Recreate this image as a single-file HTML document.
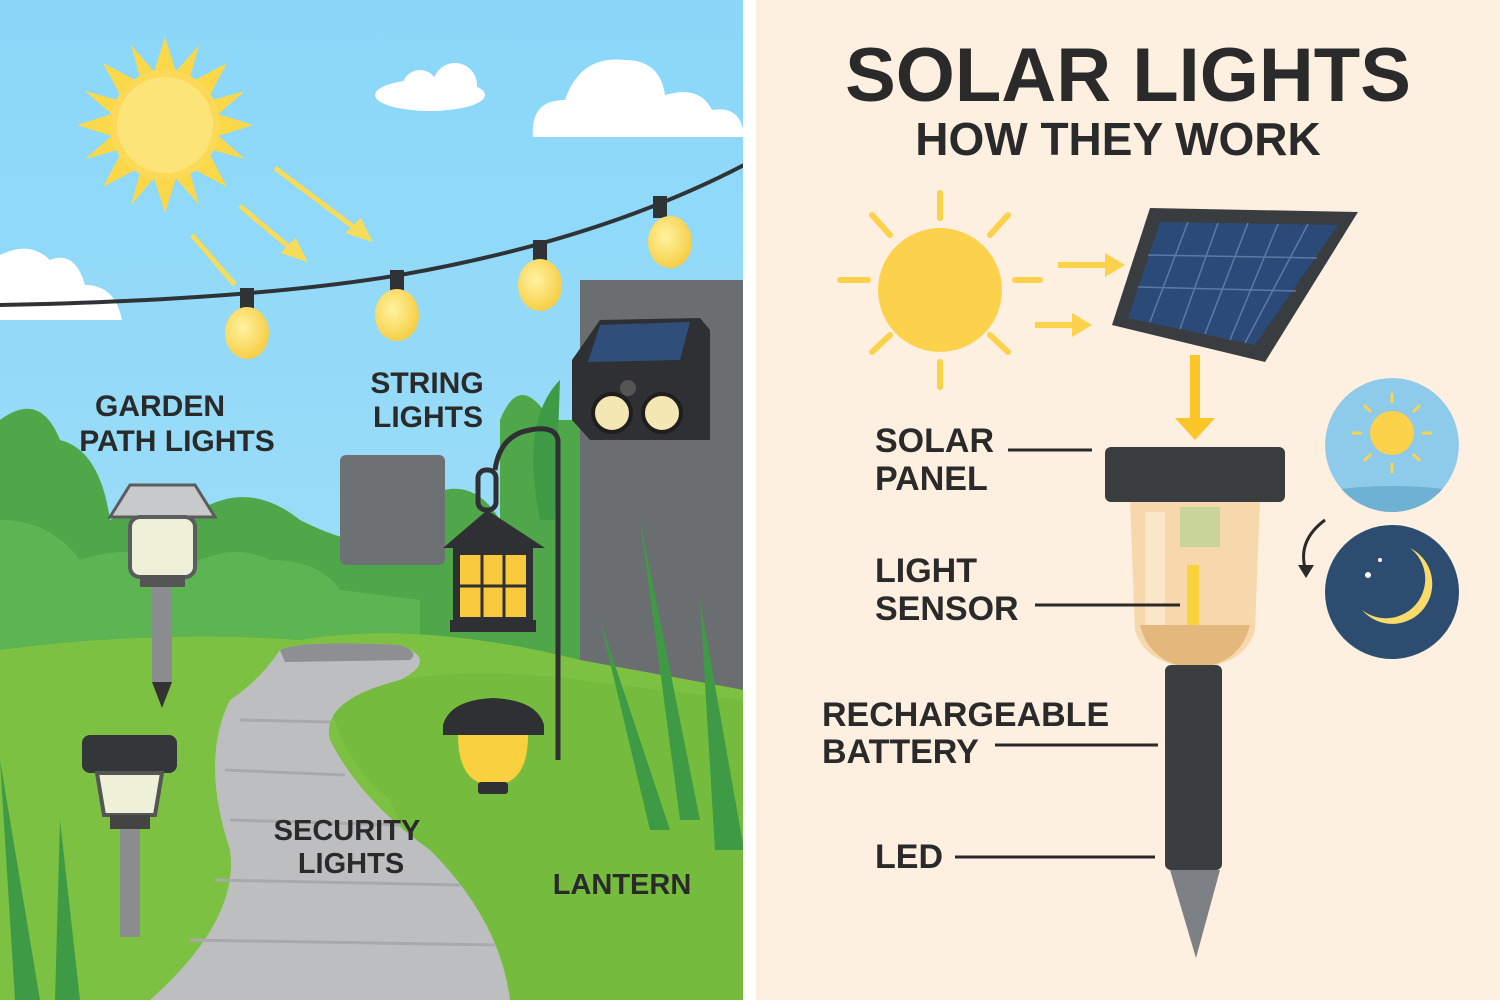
<!DOCTYPE html>
<html><head><meta charset="utf-8"><style>
html,body{margin:0;padding:0;width:1500px;height:1000px;overflow:hidden;background:#fff}
svg{display:block}
text{font-family:"Liberation Sans","DejaVu Sans",sans-serif;font-weight:bold;fill:#2a2a2a}
</style></head><body>
<svg width="1500" height="1000" viewBox="0 0 1500 1000" xmlns="http://www.w3.org/2000/svg">
<defs>
<linearGradient id="sky" x1="0" y1="0" x2="0" y2="1"><stop offset="0" stop-color="#8ad7f9"/><stop offset="1" stop-color="#a6e0f7"/></linearGradient>
<radialGradient id="bulb" cx="0.4" cy="0.4" r="0.7"><stop offset="0" stop-color="#fff3a0"/><stop offset="1" stop-color="#f6c93a"/></radialGradient>
<clipPath id="dayc"><circle cx="1392" cy="445" r="67"/></clipPath>
</defs>
<!-- LEFT PANEL -->
<rect x="0" y="0" width="744" height="1000" fill="url(#sky)"/>
<g transform="translate(165,125)">
<g fill="#fbd84a">
<polygon points="0,-88 12,-50 -12,-50"/><polygon points="0,88 12,50 -12,50"/><polygon points="-88,0 -50,12 -50,-12"/><polygon points="88,0 50,12 50,-12"/>
<polygon points="62,-62 30,-45 45,-30"/><polygon points="-62,-62 -30,-45 -45,-30"/><polygon points="62,62 30,45 45,30"/><polygon points="-62,62 -30,45 -45,30"/>
<polygon points="34,-80 24,-44 8,-50"/><polygon points="-34,-80 -24,-44 -8,-50"/><polygon points="34,80 24,44 8,50"/><polygon points="-34,80 -24,44 -8,50"/>
<polygon points="80,-34 44,-24 50,-8"/><polygon points="-80,-34 -44,-24 -50,-8"/><polygon points="80,34 44,24 50,8"/><polygon points="-80,34 -44,24 -50,8"/>
</g>
<circle r="55" fill="#fcd956"/><circle r="48" fill="#fde478"/>
</g>
<g stroke="#f6dc5a" stroke-width="5" fill="#f6dc5a">
<line x1="192" y1="235" x2="235" y2="285"/><line x1="240" y1="206" x2="295" y2="252"/><line x1="275" y1="168" x2="360" y2="232"/>
<polygon points="303,258 285,252 295,242"/><polygon points="368,238 350,232 360,222"/>
</g>
<g fill="#ffffff">
<ellipse cx="430" cy="95" rx="55" ry="16"/><circle cx="420" cy="88" r="18"/><circle cx="455" cy="85" r="22"/>
<path d="M533 137 Q530 100 565 100 Q580 55 625 60 Q660 60 665 95 Q700 85 712 110 Q742 105 744 137 Z"/>
<path d="M0 320 L0 255 Q30 240 50 260 Q75 250 85 285 Q115 285 122 320 Z"/>
</g>
<path d="M0 305 Q250 300 400 275 Q600 240 744 165" stroke="#2f3336" stroke-width="4" fill="none"/>
<g>
<rect x="240" y="288" width="14" height="22" fill="#2f3336"/><ellipse cx="247" cy="333" rx="22" ry="26" fill="url(#bulb)"/>
<rect x="390" y="270" width="14" height="22" fill="#2f3336"/><ellipse cx="397" cy="315" rx="22" ry="26" fill="url(#bulb)"/>
<rect x="533" y="240" width="14" height="22" fill="#2f3336"/><ellipse cx="540" cy="285" rx="22" ry="26" fill="url(#bulb)"/>
<rect x="653" y="196" width="14" height="22" fill="#2f3336"/><ellipse cx="670" cy="242" rx="22" ry="26" fill="url(#bulb)"/>
</g>
<path d="M0 420 Q40 390 60 440 Q100 450 110 520 Q150 500 200 510 Q250 480 300 520 Q340 540 360 540 L420 500 Q470 470 500 520 L500 420 Q520 370 550 420 L580 420 L580 700 L0 700 Z" fill="#4fa74a"/>
<path d="M0 520 Q50 520 80 560 Q140 540 180 570 Q230 540 270 560 Q320 560 340 590 L420 600 L420 700 L0 700 Z" fill="#5cb452"/>
<rect x="340" y="455" width="105" height="110" rx="6" fill="#6d7173"/>
<rect x="580" y="280" width="164" height="410" fill="#6b6e71"/>
<path d="M0 650 Q150 630 300 640 Q420 620 580 660 L744 690 L744 1000 L0 1000 Z" fill="#7dc142"/>
<path d="M330 700 Q420 660 580 680 L744 700 L744 1000 L500 1000 Q420 870 390 800 Q340 760 330 700 Z" fill="#75bc3e"/>
<path d="M280 650 Q300 640 400 645 Q440 660 400 680 Q320 700 330 740 Q360 800 430 850 Q500 920 510 1000 L150 1000 Q240 920 230 850 Q200 760 230 700 Q260 680 280 650 Z" fill="#bdbec0"/>
<path d="M280 650 Q300 640 400 645 Q420 652 410 660 L285 662 Z" fill="#8d8f92"/>
<g stroke="#a8a9ab" stroke-width="3"><line x1="240" y1="720" x2="330" y2="722"/><line x1="225" y1="770" x2="345" y2="775"/><line x1="230" y1="820" x2="400" y2="825"/><line x1="215" y1="880" x2="460" y2="885"/><line x1="190" y1="940" x2="495" y2="945"/></g>
<g fill="#3f9a45"><path d="M640 520 L700 820 L680 820 Z"/><path d="M700 600 L744 850 L715 850 Z"/><path d="M600 620 L670 830 L650 830 Z"/><path d="M0 760 L40 1000 L15 1000 Z"/><path d="M60 820 L80 1000 L55 1000 Z"/><path d="M560 380 Q520 420 540 520 L555 520 Z"/></g>
<g>
<path d="M572 360 L600 320 L700 318 L710 330 L710 440 L590 440 L572 420 Z" fill="#2e3033"/>
<polygon points="588,362 600,325 690,322 680,360" fill="#2f4f7a"/>
<circle cx="612" cy="413" r="19" fill="#f5e7b3" stroke="#1e1e1e" stroke-width="4"/><circle cx="662" cy="413" r="19" fill="#f5e7b3" stroke="#1e1e1e" stroke-width="4"/>
<circle cx="628" cy="388" r="8" fill="#555"/>
</g>
<path d="M558 760 L558 440 Q555 425 530 430 Q500 435 495 470" stroke="#2e3033" stroke-width="5" fill="none"/>
<rect x="478" y="470" width="18" height="40" rx="8" fill="none" stroke="#2e3033" stroke-width="5"/>
<polygon points="443,548 485,512 490,512 545,548" fill="#2e3033"/>
<rect x="453" y="548" width="80" height="75" fill="#2e3033"/>
<rect x="460" y="555" width="66" height="62" fill="#f8c93c"/>
<g stroke="#2e3033" stroke-width="3"><line x1="482" y1="555" x2="482" y2="617"/><line x1="504" y1="555" x2="504" y2="617"/><line x1="460" y1="586" x2="526" y2="586"/></g>
<rect x="450" y="620" width="86" height="12" fill="#2e3033"/>
<path d="M443 725 Q450 700 493 698 Q537 700 544 725 L544 735 L443 735 Z" fill="#2e3033"/>
<path d="M458 735 L528 735 Q528 785 493 785 Q458 785 458 735 Z" fill="#f9d13e"/>
<rect x="478" y="782" width="30" height="12" rx="3" fill="#2e3033"/>
<path d="M110 517 L130 485 L195 485 L215 517 Z" fill="#c8c9cb" stroke="#5a5c5e" stroke-width="3"/>
<rect x="130" y="517" width="65" height="60" rx="10" fill="#eef1d8" stroke="#5a5c5e" stroke-width="4"/>
<rect x="140" y="575" width="45" height="12" fill="#555"/>
<rect x="152" y="587" width="20" height="95" fill="#8b8d90"/>
<polygon points="152,682 172,682 162,708" fill="#333"/>
<rect x="82" y="735" width="95" height="38" rx="8" fill="#34373a"/>
<path d="M97 773 L162 773 L155 815 L104 815 Z" fill="#eef1d8" stroke="#555" stroke-width="4"/>
<rect x="110" y="815" width="40" height="14" fill="#444"/>
<rect x="120" y="829" width="20" height="108" fill="#8b8d90"/>
<text x="160" y="416" font-size="30" text-anchor="middle">GARDEN</text>
<text x="177" y="451" font-size="30" text-anchor="middle">PATH LIGHTS</text>
<text x="427" y="393" font-size="30" text-anchor="middle">STRING</text>
<text x="428" y="427" font-size="30" text-anchor="middle">LIGHTS</text>
<text x="347" y="840" font-size="29" text-anchor="middle">SECURITY</text>
<text x="351" y="873" font-size="29" text-anchor="middle">LIGHTS</text>
<text x="622" y="894" font-size="29" text-anchor="middle">LANTERN</text>
<rect x="743" y="0" width="13" height="1000" fill="#ffffff"/>
<!-- RIGHT PANEL -->
<rect x="756" y="0" width="744" height="1000" fill="#fdf0e1"/>
<text x="1128" y="101" font-size="76" text-anchor="middle" fill="#2b2b2b">SOLAR LIGHTS</text>
<text x="1118" y="155" font-size="46" text-anchor="middle" fill="#2b2b2b">HOW THEY WORK</text>
<g transform="translate(940,290)" stroke="#fbd24a" stroke-width="6" stroke-linecap="round">
<line x1="0" y1="-97" x2="0" y2="-72"/><line x1="0" y1="97" x2="0" y2="72"/><line x1="-100" y1="-10" x2="-72" y2="-10"/><line x1="100" y1="-10" x2="75" y2="-10"/>
<line x1="-68" y1="-75" x2="-50" y2="-55"/><line x1="68" y1="-75" x2="50" y2="-55"/><line x1="-68" y1="62" x2="-50" y2="45"/><line x1="68" y1="62" x2="50" y2="45"/>
<circle r="62" fill="#fcd24d" stroke="none"/>
</g>
<g stroke="#fbd24a" stroke-width="6" fill="#fbd24a">
<line x1="1058" y1="265" x2="1110" y2="265"/><polygon points="1125,265 1105,253 1105,277" stroke="none"/>
<line x1="1035" y1="325" x2="1077" y2="325"/><polygon points="1092,325 1072,313 1072,337" stroke="none"/>
</g>
<polygon points="1150,208 1358,212 1265,362 1112,325" fill="#3a3d40"/>
<polygon points="1160,222 1338,225 1255,345 1128,318" fill="#2b4a78"/>
<g stroke="#5c7aa6" stroke-width="1.5">
<line x1="1188" y1="222" x2="1150" y2="322"/><line x1="1218" y1="223" x2="1180" y2="329"/><line x1="1248" y1="223" x2="1205" y2="334"/><line x1="1278" y1="224" x2="1230" y2="340"/><line x1="1308" y1="224" x2="1245" y2="343"/>
<line x1="1148" y1="255" x2="1317" y2="258"/><line x1="1138" y1="287" x2="1296" y2="291"/>
</g>
<rect x="1190" y="355" width="10" height="65" fill="#fbc62a"/>
<polygon points="1175,418 1215,418 1195,440" fill="#fbc62a"/>
<path d="M1130 500 L1260 500 L1255 630 Q1245 665 1195 668 Q1145 665 1135 630 Z" fill="#f7d8ac"/>
<rect x="1145" y="512" width="20" height="120" fill="#fbe6c8"/>
<rect x="1180" y="507" width="40" height="40" fill="#c9d49a"/>
<rect x="1187" y="565" width="12" height="60" fill="#f8d23c"/>
<path d="M1140 625 L1250 625 Q1240 665 1195 668 Q1150 665 1140 625 Z" fill="#e4b77c"/>
<rect x="1105" y="447" width="180" height="55" rx="6" fill="#3a3d40"/>
<rect x="1165" y="665" width="57" height="205" rx="6" fill="#3b3e41"/>
<polygon points="1170,870 1220,870 1196,958" fill="#7d8084"/>
<text x="875" y="452" font-size="34">SOLAR</text>
<text x="875" y="490" font-size="34">PANEL</text>
<text x="875" y="582" font-size="34">LIGHT</text>
<text x="875" y="620" font-size="34">SENSOR</text>
<text x="822" y="726" font-size="34">RECHARGEABLE</text>
<text x="822" y="763" font-size="34">BATTERY</text>
<text x="875" y="868" font-size="34">LED</text>
<g stroke="#2a2a2a" stroke-width="3">
<line x1="1008" y1="450" x2="1092" y2="450"/><line x1="1035" y1="605" x2="1180" y2="605"/><line x1="995" y1="745" x2="1158" y2="745"/><line x1="955" y1="857" x2="1155" y2="857"/>
</g>
<g clip-path="url(#dayc)">
<circle cx="1392" cy="445" r="67" fill="#8ecbea"/>
<path d="M1320 492 Q1392 480 1465 492 L1465 520 L1320 520 Z" fill="#6fb1d2"/>
</g>
<g transform="translate(1392,433)" stroke="#fbd24a" stroke-width="3">
<line x1="0" y1="-40" x2="0" y2="-30"/><line x1="0" y1="40" x2="0" y2="30"/><line x1="-40" y1="0" x2="-30" y2="0"/><line x1="40" y1="0" x2="30" y2="0"/>
<line x1="-28" y1="-28" x2="-21" y2="-21"/><line x1="28" y1="-28" x2="21" y2="-21"/><line x1="-28" y1="28" x2="-21" y2="21"/><line x1="28" y1="28" x2="21" y2="21"/>
<circle r="22" fill="#fbd24a" stroke="none"/>
</g>
<circle cx="1392" cy="592" r="67" fill="#2c4d6f"/>
<path d="M1410 548 A40 40 0 1 1 1362 610 A32 32 0 0 0 1410 548 Z" fill="#f8db6a"/>
<circle cx="1368" cy="575" r="3" fill="#fff"/><circle cx="1380" cy="560" r="2" fill="#fff"/>
<path d="M1325 520 Q1298 540 1305 568" stroke="#2a2a2a" stroke-width="3" fill="none"/>
<polygon points="1298,565 1314,565 1306,578" fill="#2a2a2a"/>
</svg>
</body></html>
